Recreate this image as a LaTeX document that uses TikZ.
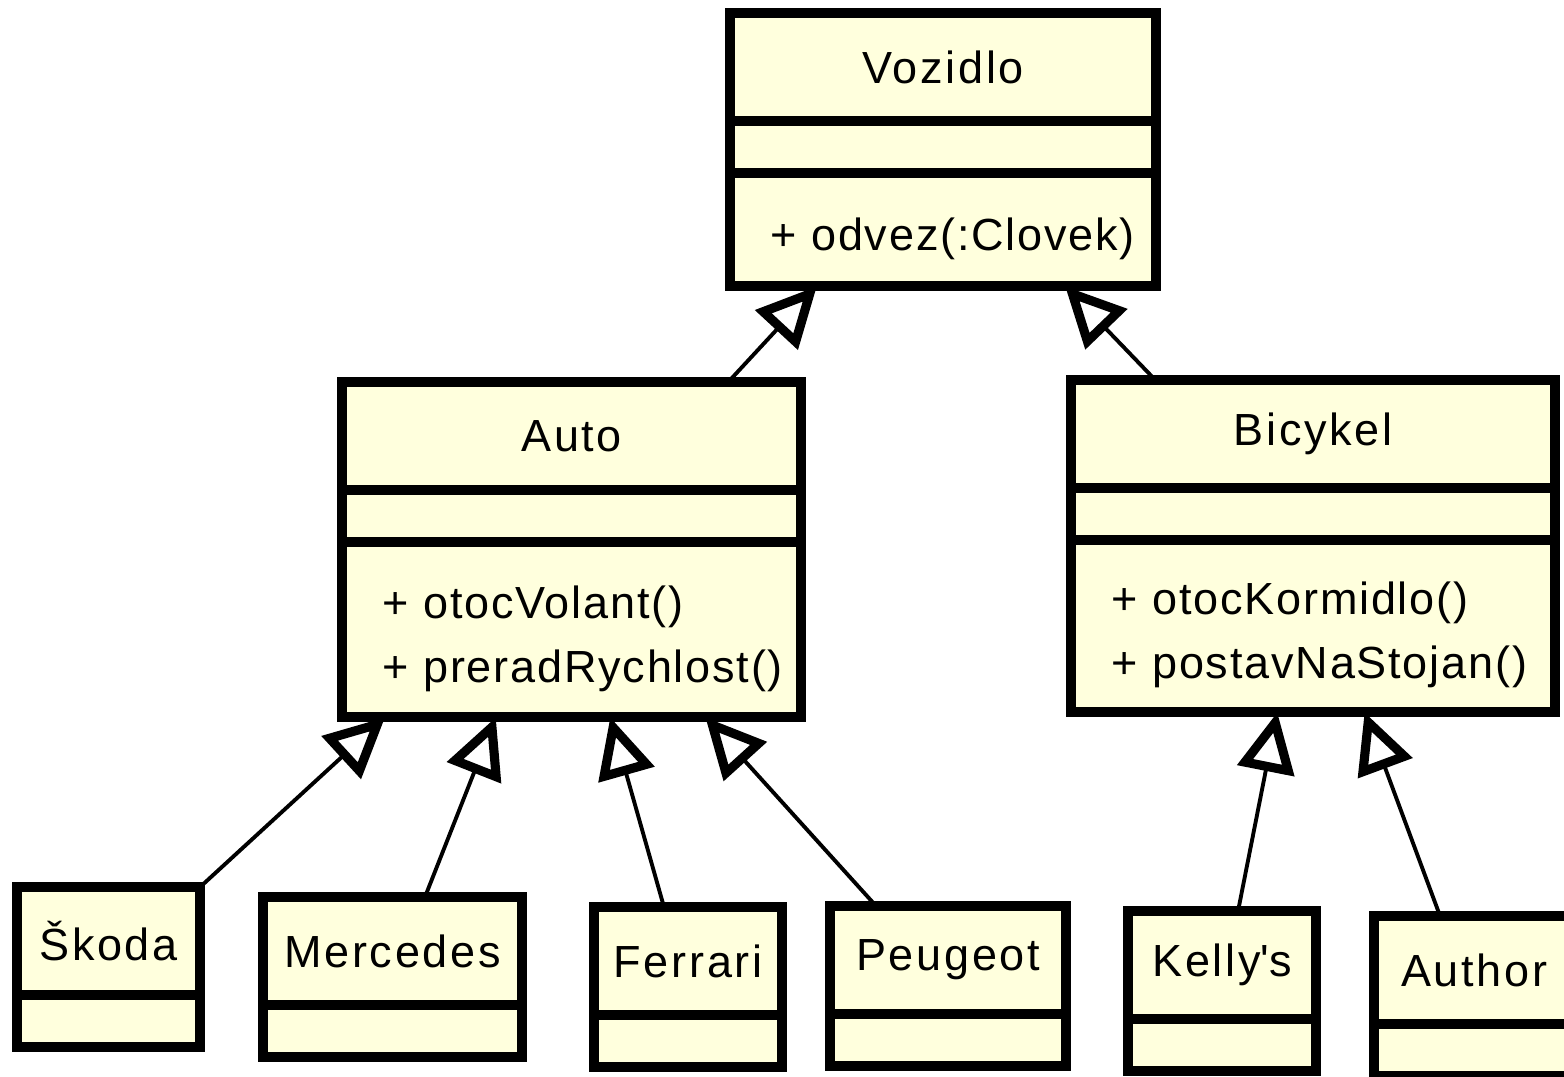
\documentclass[tikz,border=0pt]{standalone}
\usepackage{fontspec}
\setmainfont[LetterSpace=4.0]{Liberation Sans}
\newfontfamily\titlefont[LetterSpace=6.0]{Liberation Sans}
\usetikzlibrary{positioning,arrows.meta,calc}
\definecolor{classfill}{RGB}{255,255,221}
\tikzset{
  compart/.style={draw, fill=classfill, line width=2.85pt, outer sep=0pt, inner sep=0pt,
    font=\fontsize{12.8}{18.2}\selectfont},
  clsname/.style={compart, minimum height=1.08cm, anchor=north west,
    font=\titlefont\fontsize{12.8}{18.2}\selectfont},
  attrs/.style={compart, minimum height=0.52cm},
  methods/.style={compart, align=left, inner xsep=0.4cm,
    execute at begin node={\rule{0pt}{14.5pt}}},
  gen/.style={line width=1.1pt, -{Triangle[open, length=17pt, width=16pt, line width=2.6pt]}}
}
\begin{document}
\begin{tikzpicture}[x=0.01cm, y=-0.01cm]
    \useasboundingbox (0,0) rectangle (1564,1076);
    % parent class
    \node[clsname, minimum width=4.26cm] (vozidlo) at (730,13) {Vozidlo};
    \node[attrs, minimum width=4.26cm, below=0pt of vozidlo] (vozidlo-a) {};
    \node[methods, text width=3.46cm, minimum height=1.13cm, below=0pt of vozidlo-a] (vozidlo-m) {\mbox{+ odvez(:Clovek)}};
    % second level
    \node[clsname, minimum width=4.59cm] (auto) at (342,382) {Auto};
    \node[attrs, minimum width=4.59cm, below=0pt of auto] (auto-a) {};
    \node[methods, text width=3.79cm, minimum height=1.75cm, below=0pt of auto-a] (auto-m) {\mbox{+ otocVolant()}\\\mbox{+ preradRychlost()}};
    \node[clsname, minimum width=4.84cm] (bicykel) at (1071,380) {Bicykel};
    \node[attrs, minimum width=4.84cm, below=0pt of bicykel] (bicykel-a) {};
    \node[methods, text width=4.04cm, minimum height=1.72cm, below=0pt of bicykel-a] (bicykel-m) {\mbox{+ otocKormidlo()}\\\mbox{+ postavNaStojan()}};
    % leaves
    \node[clsname, minimum width=1.83cm] (skoda) at (17,887) {Škoda};
    \node[attrs, minimum width=1.83cm, below=0pt of skoda] (skoda-a) {};
    \node[clsname, minimum width=2.59cm] (mercedes) at (263,897) {Mercedes};
    \node[attrs, minimum width=2.59cm, below=0pt of mercedes] (mercedes-a) {};
    \node[clsname, minimum width=1.88cm] (ferrari) at (594,907) {Ferrari};
    \node[attrs, minimum width=1.88cm, below=0pt of ferrari] (ferrari-a) {};
    \node[clsname, minimum width=2.36cm] (peugeot) at (830,906) {Peugeot};
    \node[attrs, minimum width=2.36cm, below=0pt of peugeot] (peugeot-a) {};
    \node[clsname, minimum width=1.88cm] (kellys) at (1128,911) {Kelly\textquotesingle s};
    \node[attrs, minimum width=1.88cm, below=0pt of kellys] (kellys-a) {};
    \node[clsname, minimum width=2.00cm] (author) at (1374,916) {Author};
    \node[attrs, minimum width=2.00cm, below=0pt of author] (author-a) {};
    % generalizations
    \draw[gen] ($(auto.north west)!0.841!(auto.north east)$) -- ($(vozidlo-m.south west)!0.204!(vozidlo-m.south east)$);
    \draw[gen] ($(bicykel.north west)!0.174!(bicykel.north east)$) -- ($(vozidlo-m.south west)!0.786!(vozidlo-m.south east)$);
    \draw[gen] (skoda.north east) -- ($(auto-m.south west)!0.094!(auto-m.south east)$);
    \draw[gen] ($(mercedes.north west)!0.625!(mercedes.north east)$) -- ($(auto-m.south west)!0.335!(auto-m.south east)$);
    \draw[gen] ($(ferrari.north west)!0.372!(ferrari.north east)$) -- ($(auto-m.south west)!0.584!(auto-m.south east)$);
    \draw[gen] ($(peugeot.north west)!0.195!(peugeot.north east)$) -- ($(auto-m.south west)!0.791!(auto-m.south east)$);
    \draw[gen] ($(kellys.north west)!0.585!(kellys.north east)$) -- ($(bicykel-m.south west)!0.426!(bicykel-m.south east)$);
    \draw[gen] ($(author.north west)!0.33!(author.north east)$) -- ($(bicykel-m.south west)!0.606!(bicykel-m.south east)$);
\end{tikzpicture}
\end{document}
